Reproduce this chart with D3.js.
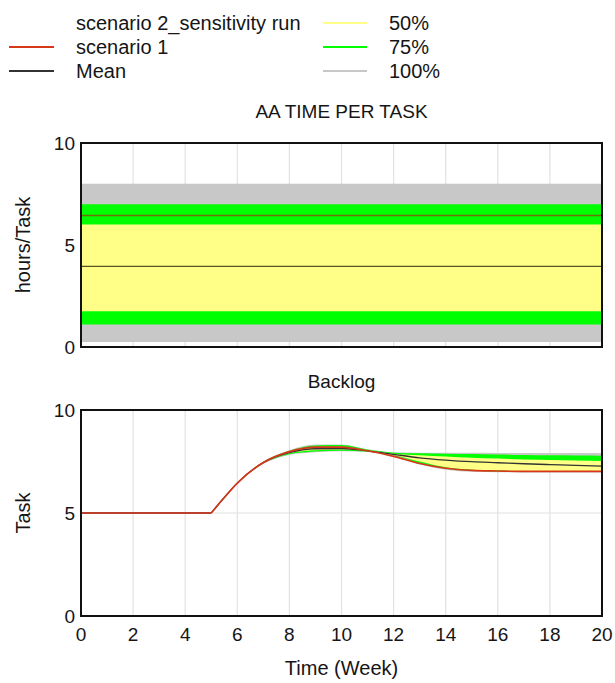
<!DOCTYPE html>
<html>
<head>
<meta charset="utf-8">
<script src="https://cdn.jsdelivr.net/npm/d3@7"></script>
<style>
  body { margin: 0; background: #fff; font-family: "Liberation Sans", Arial, sans-serif; }
  svg text { fill: #151515; }
</style>
</head>
<body>
<svg id="chart" width="615" height="683"></svg>
<script>
// --- data ---
const timeWeeks = [0, 1, 2, 3, 4, 5, 5.5, 6, 7, 8, 9, 10, 11, 12, 13, 14, 15, 16, 17, 18, 19, 20];
const xTicks = [0, 2, 4, 6, 8, 10, 12, 14, 16, 18, 20];
const yTicks = [0, 5, 10];

// AA TIME PER TASK (constant over time)
const aaBand100 = [0.25, 8.0];
const aaBand75 = [1.1, 7.0];
const aaBand50 = [1.75, 6.0];
const aaMean = 3.95;
const aaScenario1 = 6.45;

// Backlog
const blMean      = [5, 5, 5, 5, 5, 5, 5.75, 6.45, 7.45, 7.93, 8.12, 8.13, 8.02, 7.85, 7.68, 7.57, 7.49, 7.44, 7.39, 7.35, 7.31, 7.28];
const blScenario1 = [5, 5, 5, 5, 5, 5, 5.75, 6.45, 7.45, 7.98, 8.2, 8.2, 8.02, 7.75, 7.4, 7.17, 7.07, 7.04, 7.02, 7.02, 7.02, 7.02];
const bl100Hi = [5, 5, 5, 5, 5, 5, 5.76, 6.47, 7.5, 8.05, 8.32, 8.33, 8.1, 7.95, 7.93, 7.92, 7.92, 7.91, 7.91, 7.91, 7.91, 7.91];
const bl100Lo = [5, 5, 5, 5, 5, 5, 5.74, 6.42, 7.38, 7.82, 7.95, 8.0, 7.96, 7.78, 7.35, 7.1, 7.0, 6.98, 6.97, 6.97, 6.97, 6.97];
const bl75Hi  = [5, 5, 5, 5, 5, 5, 5.76, 6.46, 7.48, 8.02, 8.28, 8.3, 8.08, 7.93, 7.9, 7.88, 7.86, 7.84, 7.82, 7.8, 7.79, 7.78];
const bl75Lo  = [5, 5, 5, 5, 5, 5, 5.74, 6.43, 7.4, 7.85, 7.98, 8.02, 7.97, 7.8, 7.4, 7.15, 7.05, 7.02, 7.0, 7.0, 7.0, 7.0];
const bl50Hi  = [5, 5, 5, 5, 5, 5, 5.75, 6.45, 7.46, 7.98, 8.2, 8.22, 8.05, 7.88, 7.8, 7.74, 7.68, 7.64, 7.6, 7.57, 7.55, 7.53];
const bl50Lo  = [5, 5, 5, 5, 5, 5, 5.75, 6.44, 7.43, 7.9, 8.05, 8.08, 8.0, 7.82, 7.5, 7.22, 7.1, 7.06, 7.04, 7.04, 7.04, 7.04];

const colors = { c100: '#c8c8c8', c75: '#00ff00', c50: '#ffff88', mean: '#333333', s1: '#d8361a', grid: '#e2e2e2' };

const svg = d3.select('#chart');
const left = 81, right = 602;

const x = d3.scaleLinear().domain([0, 20]).range([left, right]);

// --- legend ---
const legend = svg.append('g').style('font-size', '20px');
const legendLeft = [
  { label: 'scenario 2_sensitivity run', color: null, y: 23 },
  { label: 'scenario 1', color: colors.s1, y: 47 },
  { label: 'Mean', color: colors.mean, y: 71 }
];
const legendRight = [
  { label: '50%', color: colors.c50, y: 23 },
  { label: '75%', color: colors.c75, y: 47 },
  { label: '100%', color: colors.c100, y: 71 }
];
legendLeft.forEach(d => {
  if (d.color) legend.append('line').attr('x1', 9).attr('x2', 54).attr('y1', d.y).attr('y2', d.y)
    .attr('stroke', d.color).attr('stroke-width', 2);
  legend.append('text').attr('x', 76).attr('y', d.y).attr('dy', '0.35em').text(d.label);
});
legendRight.forEach(d => {
  legend.append('line').attr('x1', 323).attr('x2', 367).attr('y1', d.y).attr('y2', d.y)
    .attr('stroke', d.color).attr('stroke-width', 2);
  legend.append('text').attr('x', 389).attr('y', d.y).attr('dy', '0.35em').text(d.label);
});

function panel(top, bottom, title, titleY, yLabel) {
  const y = d3.scaleLinear().domain([0, 10]).range([bottom, top]);
  const g = svg.append('g');

  g.append('text').attr('x', (left + right) / 2).attr('y', titleY).attr('dy', '0.35em')
    .attr('text-anchor', 'middle').style('font-size', '19px').text(title);

  // grid
  g.append('g').selectAll('line.v').data(xTicks.slice(1, -1)).join('line')
    .attr('x1', d => x(d)).attr('x2', d => x(d)).attr('y1', top).attr('y2', bottom)
    .attr('stroke', colors.grid).attr('stroke-width', 1.2);
  g.append('line').attr('x1', left).attr('x2', right).attr('y1', y(5)).attr('y2', y(5))
    .attr('stroke', colors.grid).attr('stroke-width', 1.2);

  // y axis labels
  g.append('g').selectAll('text').data(yTicks).join('text')
    .attr('x', left - 6).attr('y', d => y(d)).attr('dy', '0.35em')
    .attr('text-anchor', 'end').style('font-size', '19px').text(d => d);

  g.append('text').attr('transform', `translate(23,${(top + bottom) / 2}) rotate(-90)`)
    .attr('text-anchor', 'middle').attr('dy', '0.35em').style('font-size', '20px').text(yLabel);

  return { g, y, top, bottom };
}

function frame(p) {
  p.g.append('rect').attr('x', left).attr('y', p.top).attr('width', right - left).attr('height', p.bottom - p.top)
    .attr('fill', 'none').attr('stroke', '#111').attr('stroke-width', 2);
}

// --- top panel: AA TIME PER TASK ---
const p1 = panel(143, 347, 'AA TIME PER TASK', 111, 'hours/Task');
const flat = [0, 20];
const bandArea = (yS, lo, hi) => d3.area().x(d => x(d)).y0(yS(lo)).y1(yS(hi));
[[aaBand100, colors.c100], [aaBand75, colors.c75], [aaBand50, colors.c50]].forEach(([b, c]) => {
  p1.g.append('path').datum(flat).attr('d', bandArea(p1.y, b[0], b[1])).attr('fill', c);
});
p1.g.append('path').datum(flat).attr('d', d3.line().x(d => x(d)).y(p1.y(aaScenario1)))
  .attr('stroke', '#8a4a10').attr('stroke-width', 1.5).attr('fill', 'none').attr('opacity', 0.8);
p1.g.append('path').datum(flat).attr('d', d3.line().x(d => x(d)).y(p1.y(aaMean)))
  .attr('stroke', '#555522').attr('stroke-width', 1.3).attr('fill', 'none');
frame(p1);

// --- bottom panel: Backlog ---
// flat part before the step is straight, the response after week 5 is smoothed
const p2 = panel(410, 616, 'Backlog', 381, 'Task');
const curve = d3.curveMonotoneX;
const stepIdx = timeWeeks.indexOf(5);
const flatIdx = timeWeeks.map((t, i) => i).filter(i => i <= stepIdx);
const riseIdx = timeWeeks.map((t, i) => i).filter(i => i >= stepIdx);
function band(lo, hi, c) {
  p2.g.append('path').datum(riseIdx)
    .attr('d', d3.area().curve(curve).x(i => x(timeWeeks[i])).y0(i => p2.y(lo[i])).y1(i => p2.y(hi[i])))
    .attr('fill', c);
}
band(bl100Lo, bl100Hi, colors.c100);
band(bl75Lo, bl75Hi, colors.c75);
band(bl50Lo, bl50Hi, colors.c50);
function line(vals, c, w) {
  const gen = d3.line().x(i => x(timeWeeks[i])).y(i => p2.y(vals[i]));
  p2.g.append('path').datum(flatIdx).attr('d', gen)
    .attr('stroke', c).attr('stroke-width', w).attr('fill', 'none');
  p2.g.append('path').datum(riseIdx).attr('d', gen.curve(curve))
    .attr('stroke', c).attr('stroke-width', w).attr('fill', 'none');
}
line(blMean, colors.mean, 1.3);
line(blScenario1, colors.s1, 1.6);
frame(p2);

// x axis tick labels
p2.g.append('g').selectAll('text').data(xTicks).join('text')
  .attr('x', d => x(d)).attr('y', 634).attr('dy', '0.35em')
  .attr('text-anchor', 'middle').style('font-size', '19px').text(d => d);
p2.g.append('text').attr('x', (left + right) / 2).attr('y', 668).attr('dy', '0.35em')
  .attr('text-anchor', 'middle').style('font-size', '20px').text('Time (Week)');
</script>
</body>
</html>
